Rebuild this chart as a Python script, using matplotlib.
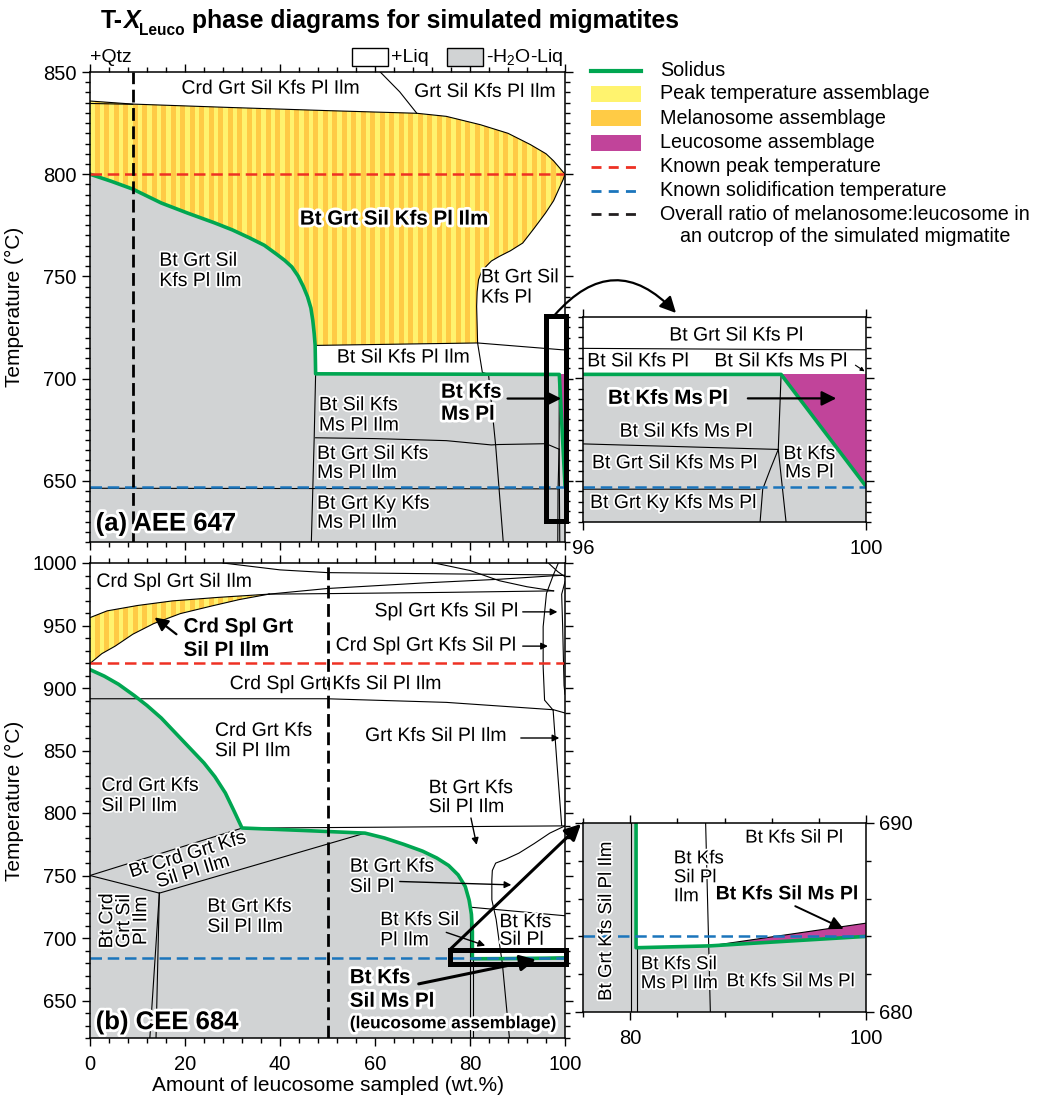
import matplotlib
matplotlib.use("Agg")
import matplotlib.pyplot as plt
import matplotlib.patheffects as pe
from matplotlib.patches import Polygon, Rectangle
from matplotlib.lines import Line2D
from matplotlib.ticker import MultipleLocator, FixedLocator
import numpy as np

plt.rcParams['font.family'] = ['Liberation Sans', 'DejaVu Sans']
plt.rcParams['mathtext.fontset'] = 'custom'
plt.rcParams['mathtext.rm'] = 'Liberation Sans'
plt.rcParams['mathtext.it'] = 'Liberation Sans:italic'
plt.rcParams['mathtext.bf'] = 'Liberation Sans:bold'

GRAY = '#D1D3D4'
YEL = '#FFF36E'
ORG = '#FFCB45'
MAG = '#C1449A'
GREEN = '#00A651'
RED = '#EE3124'
BLUE = '#1B75BC'
FS = 14

# ---- panel (a) AEE 647: x = leucosome wt.%, T = deg C ----
a_sol_x = [0, 4.5, 9, 15, 20.5, 26.3, 30, 33.6, 36.7, 39.3, 41, 42.5, 43.8, 44.9, 45.8, 46.5, 46.9, 47.2, 47.4, 47.5, 98.8, 100]
a_sol_T = [800, 796.5, 792.7, 785.9, 781.0, 776.1, 772.7, 768.8, 765.2, 760.8, 757.8, 754.6, 750.2, 745.1, 740.0, 734.5, 728.5, 722.0, 716.2, 702.3, 702, 647.4]
N_YEL = 19  # solidus points that bound the yellow field
a_liq_x = [0, 9, 30, 50, 68.8, 75, 82.2, 88, 92.7, 96, 97.6, 100]
a_liq_T = [835.8, 834.3, 832.6, 831.1, 829.8, 828.3, 824.2, 820, 814.5, 810, 806.5, 800]
a_liq2_x = [0, 9]
a_liq2_T = [834.6, 834.2]
a_crd_x = [61.1, 65.2, 68.8]
a_crd_T = [850, 840.3, 829.8]
a_edge_x = [100, 99.6, 97.6, 95.9, 93.5, 91.1, 88.5, 86.2, 84.5, 83.4, 82.4, 81.8, 81.5, 81.4, 81.6]
a_edge_T = [800, 797.3, 787, 781, 773.5, 766.3, 762.5, 759.8, 757.5, 754.9, 752.0, 748.4, 742.5, 735.3, 717.4]
a_mid_x = [47.4, 81.6, 99.2, 100]
a_mid_T = [716.2, 717.4, 714.1, 714]
a_v1_x = [81.6, 82.6, 83.9, 85.4, 87.0]
a_v1_T = [717.4, 703, 702, 667.3, 620]
a_ms_x = [47.5, 60, 75, 84.5, 86, 96, 98.76]
a_ms_T = [671, 670.6, 669.6, 667.5, 667.7, 668.1, 665.4]
a_ky_x = [0, 98.5]
a_ky_T = [646.3, 646]
a_v2_x = [47.5, 47.2, 46.6]
a_v2_T = [702.3, 671, 620]
a_v3_x = [98.8, 98.76, 98.87, 98.9]
a_v3_T = [702, 665.4, 630, 620]
a_v4_x = [98.76, 98.65, 98.54, 98.48]
a_v4_T = [665.4, 656, 646, 620]
a_peak, a_solid, a_ratio = 800, 647, 9

# ---- panel (b) CEE 684 ----
b_sol_x = [0, 3, 6, 9.3, 12, 15, 18.5, 21.5, 24, 26.3, 28.5, 30.4, 32, 45, 57.9, 62, 66, 70, 73, 75.5, 77.5, 79, 79.8, 80.3, 80.5, 80.5, 86.8, 100]
b_sol_T = [914.7, 909.5, 903, 894, 886, 876, 862, 850, 840, 829, 816, 801, 788, 786, 783.9, 780, 775, 769.5, 764, 758, 750.5, 741.2, 730.5, 719, 705, 683.4, 683.5, 684.0]
b_leu_x = [86.8, 100, 100]
b_leu_T = [683.5, 684.0, 684.7]
b_ytop_x = [0, 3.6, 10, 17.4, 27, 37.7]
b_ytop_T = [956.3, 961.7, 966.0, 969.7, 972.5, 975.1]
b_ybot_x = [0, 2.5, 5.3, 9, 13.4, 19, 25.5, 31.5, 37.7]
b_ybot_T = [919.6, 927.5, 933.5, 943.0, 951.5, 959.5, 965.5, 970.8, 975.1]
b_lines = [
    ([37.7, 50, 70, 86.2, 97.6, 100], [975.1, 979.6, 984, 987, 989.8, 990.2]),
    ([37.7, 50, 75, 97.6], [975.1, 975.5, 976.5, 977.7]),
    ([72.5, 80, 86.2, 92, 97.6], [1000, 994, 985.8, 981, 977.7]),
    ([28, 40, 50, 75, 97.6, 100], [1000, 994.5, 992.3, 991.3, 990.5, 990]),
    ([98.6, 97.5, 96.1, 95.4, 95.4, 95.7, 97.5], [1000, 990, 975.7, 949, 917, 890.3, 882.3]),
    ([97.5, 98.3, 99.3], [882.3, 840, 790]),
    ([100, 99.3, 99.5, 99.8, 100], [985, 975, 950, 902, 895]),
    ([96.5, 98.5, 100], [1000, 993, 989]),
    ([0, 49.8, 75, 97.6, 100], [891.4, 891.4, 888.5, 882.6, 880]),
    ([32, 60, 100], [787.9, 788.6, 789.7]),
    ([0, 32], [750, 787.9]),
    ([0, 14.6], [750, 735.9]),
    ([14.6, 57.9], [735.9, 783.9]),
    ([14.6, 13.9], [735.9, 620]),
    ([14.6, 12.6], [735.9, 620]),
    ([100, 96.8, 93.5, 90.3, 87.5, 85.4, 84.7, 84.6, 84.6, 85.5, 86.4, 86.8, 88.3],
     [789.7, 783.9, 775.5, 767.9, 763.0, 759.9, 754.0, 746.5, 730.5, 715, 690, 680, 620]),
    ([80.5, 100], [724.5, 717.8]),
    ([80.1, 80.1], [730, 620]),
    ([80.6, 80.6], [683.4, 620]),
]
b_peak, b_solid, b_ratio = 920, 684, 50

W, H = 1039, 1098
fig = plt.figure(figsize=(W / 100, H / 100), dpi=100)


def box(x0, y0, x1, y1):
    return [x0 / W, 1 - y1 / H, (x1 - x0) / W, (y1 - y0) / H]


def fx(px):
    return px / W


def fy(py):
    return 1 - py / H


axa = fig.add_axes(box(90, 72, 565, 542))
axb = fig.add_axes(box(90, 563, 565, 1038))
ina = fig.add_axes(box(583, 317, 866, 522))
inb = fig.add_axes(box(583, 823, 866, 1012))

thin = dict(color='k', lw=0.8, zorder=2)
halo = [pe.withStroke(linewidth=2.5, foreground='white')]
halo_b = [pe.withStroke(linewidth=4, foreground='white')]


def stripes(ax, poly):
    ax.add_patch(poly)
    for x0 in np.arange(0, 100, 2):
        s = ax.axvspan(x0 + 1, x0 + 2, color=ORG, lw=0, zorder=1.2)
        s.set_clip_path(poly)


def common(ax, peak, solid, ratio):
    ax.axhline(peak, color=RED, lw=1.8, ls=(0, (4.6, 2.3)), zorder=4)
    ax.axhline(solid, color=BLUE, lw=1.8, ls=(0, (4.6, 2.3)), zorder=4)
    ax.axvline(ratio, color='k', lw=2, ls=(0, (4.6, 2.0)), zorder=4)


def draw_a(ax):
    ax.add_patch(Polygon(np.column_stack([[0] + a_sol_x + [100], [620] + a_sol_T + [620]]),
                         fc=GRAY, ec='none', zorder=1))
    px = a_liq_x + a_edge_x[1:] + a_sol_x[:N_YEL][::-1]
    pT = a_liq_T + a_edge_T[1:] + a_sol_T[:N_YEL][::-1]
    stripes(ax, Polygon(np.column_stack([px, pT]), fc=YEL, ec='none', zorder=1.1))
    ax.fill([a_sol_x[-2], 100, a_sol_x[-1]], [a_sol_T[-2], a_sol_T[-2], a_sol_T[-1]],
            color=MAG, lw=0, zorder=1.3)
    for xs, ts in [(a_liq_x, a_liq_T), (a_liq2_x, a_liq2_T), (a_crd_x, a_crd_T),
                   (a_edge_x, a_edge_T), (a_mid_x, a_mid_T), (a_v1_x, a_v1_T),
                   (a_ms_x, a_ms_T), (a_ky_x, a_ky_T), (a_v2_x, a_v2_T),
                   (a_v3_x, a_v3_T), (a_v4_x, a_v4_T)]:
        ax.plot(xs, ts, **thin)
    ax.plot(a_sol_x, a_sol_T, color=GREEN, lw=2.6, zorder=3, solid_joinstyle='round')
    common(ax, a_peak, a_solid, a_ratio)


def draw_b(ax):
    ax.add_patch(Polygon(np.column_stack([[0] + b_sol_x + [100], [620] + b_sol_T + [620]]),
                         fc=GRAY, ec='none', zorder=1))
    px = b_ytop_x + b_ybot_x[::-1]
    pT = b_ytop_T + b_ybot_T[::-1]
    stripes(ax, Polygon(np.column_stack([px, pT]), fc=YEL, ec='none', zorder=1.1))
    ax.fill(b_leu_x, b_leu_T, color=MAG, lw=0, zorder=1.3)
    ax.plot(b_ytop_x, b_ytop_T, **thin)
    ax.plot(b_ybot_x, b_ybot_T, **thin)
    ax.plot([b_leu_x[0], b_leu_x[2]], [b_leu_T[0], b_leu_T[2]], **thin)
    for xs, ts in b_lines:
        ax.plot(xs, ts, **thin)
    ax.plot(b_sol_x, b_sol_T, color=GREEN, lw=2.6, zorder=3, solid_joinstyle='round')
    common(ax, b_peak, b_solid, b_ratio)


def style(ax, xlim, ylim):
    ax.set_xlim(*xlim)
    ax.set_ylim(*ylim)
    ax.tick_params(which='both', direction='out', top=True, right=True, width=1, labelsize=14.5)
    ax.tick_params(which='major', length=6)
    ax.tick_params(which='minor', length=3.5)
    ax.tick_params(axis='x', pad=6)
    for s in ax.spines.values():
        s.set_linewidth(1.1)
        s.set_zorder(9)


def lab(ax, x, y, s, ha='center', bold=False, size=FS, rot=0, ls=1.2):
    ax.text(x, y, s, ha=ha, va='center', fontsize=size, rotation=rot, rotation_mode='anchor',
            fontweight='bold' if bold else 'normal', linespacing=ls,
            multialignment='left' if ha == 'left' else ('right' if ha == 'right' else 'center'),
            path_effects=halo_b if bold else halo, zorder=6)


def arr(ax, x0, y0, x1, y1, lw=1.0, ms=12):
    ax.annotate('', xy=(x1, y1), xytext=(x0, y0), zorder=7,
                arrowprops=dict(arrowstyle='-|>', lw=lw, color='k', mutation_scale=ms,
                                shrinkA=0, shrinkB=0))


# panel a
draw_a(axa)
style(axa, (0, 100), (620, 850))
axa.xaxis.set_major_locator(MultipleLocator(20))
axa.xaxis.set_minor_locator(MultipleLocator(4))
axa.yaxis.set_major_locator(MultipleLocator(50))
axa.yaxis.set_minor_locator(MultipleLocator(5))
axa.tick_params(labelbottom=False)
axa.set_ylabel('Temperature (°C)', fontsize=15)
axa.yaxis.set_label_coords(-0.138, 0.5)

lab(axa, 38.1, 841.6, 'Crd Grt Sil Kfs Pl Ilm')
lab(axa, 83.2, 840, 'Grt Sil Kfs Pl Ilm')
lab(axa, 64, 778, 'Bt Grt Sil Kfs Pl Ilm', bold=True, size=14.8)
lab(axa, 14.6, 752.4, 'Bt Grt Sil\nKfs Pl Ilm', ha='left', ls=1.25)
lab(axa, 82.3, 744.3, 'Bt Grt Sil\nKfs Pl', ha='left', ls=1.25)
lab(axa, 66, 710, 'Bt Sil Kfs Pl Ilm')
lab(axa, 48.2, 681.7, 'Bt Sil Kfs\nMs Pl Ilm', ha='left', ls=1.25)
lab(axa, 47.8, 658.2, 'Bt Grt Sil Kfs\nMs Pl Ilm', ha='left', ls=1.15)
lab(axa, 47.8, 633.8, 'Bt Grt Ky Kfs\nMs Pl Ilm', ha='left', ls=1.15)
lab(axa, 73.9, 687.9, 'Bt Kfs\nMs Pl', ha='left', bold=True, size=14.8, ls=1.2)
arr(axa, 87.9, 690.2, 99.2, 690.2, lw=1.6, ms=22)
lab(axa, 1.2, 629, '(a) AEE 647', ha='left', bold=True, size=18.5)
axa.add_patch(Rectangle((95.9, 630.5), 4.3, 100, fill=False, lw=3.6, ec='k',
                        clip_on=False, zorder=8))
axa.annotate('', xy=(fx(676), fy(313)), xycoords='figure fraction', xytext=(97.8, 731),
             textcoords='data', zorder=8,
             arrowprops=dict(arrowstyle='-|>', lw=1.6, color='k', mutation_scale=24,
                             shrinkA=0, shrinkB=0, connectionstyle='arc3,rad=-0.55'))

# inset a
draw_a(ina)
style(ina, (96, 100), (630, 730))
ina.xaxis.set_major_locator(FixedLocator([96, 100]))
ina.yaxis.set_major_locator(MultipleLocator(50))
ina.yaxis.set_minor_locator(MultipleLocator(5))
ina.tick_params(labelleft=False)
lab(ina, 98.17, 720.7, 'Bt Grt Sil Kfs Pl')
lab(ina, 96.78, 708.1, 'Bt Sil Kfs Pl')
lab(ina, 98.8, 708.1, 'Bt Sil Kfs Ms Pl')
arr(ina, 99.85, 706.5, 99.98, 703.5, lw=0.8, ms=6)
lab(ina, 97.2, 690.3, 'Bt Kfs Ms Pl', bold=True, size=14.8)
arr(ina, 98.33, 690.3, 99.58, 690.3, lw=1.6, ms=22)
lab(ina, 97.46, 673.8, 'Bt Sil Kfs Ms Pl')
lab(ina, 97.3, 658.4, 'Bt Grt Sil Kfs Ms Pl')
lab(ina, 99.2, 658.4, 'Bt Kfs\nMs Pl', ls=1.1)
lab(ina, 97.28, 639, 'Bt Grt Ky Kfs Ms Pl')

# panel b
draw_b(axb)
style(axb, (0, 100), (620, 1000))
axb.xaxis.set_major_locator(MultipleLocator(20))
axb.xaxis.set_minor_locator(MultipleLocator(4))
axb.yaxis.set_major_locator(MultipleLocator(50))
axb.yaxis.set_minor_locator(MultipleLocator(10))
axb.set_ylabel('Temperature (°C)', fontsize=15)
axb.yaxis.set_label_coords(-0.138, 0.5)
axb.set_xlabel('Amount of leucosome sampled (wt.%)', fontsize=15)
axb.xaxis.set_label_coords(0.5, -0.08)

lab(axb, 17.8, 984.5, 'Crd Spl Grt Sil Ilm')
lab(axb, 19.7, 939.5, 'Crd Spl Grt\nSil Pl Ilm', ha='left', bold=True, size=14.8, ls=1.3)
arr(axb, 18.2, 943, 13.6, 956.5, lw=1.6, ms=20)
lab(axb, 90.3, 960.9, 'Spl Grt Kfs Sil Pl', ha='right')
arr(axb, 91.1, 960.9, 98.4, 960.9, ms=10)
lab(axb, 89.9, 933.5, 'Crd Spl Grt Kfs Sil Pl', ha='right')
arr(axb, 91.1, 933.5, 96.4, 933.5, ms=10)
lab(axb, 51.8, 902.7, 'Crd Spl Grt Kfs Sil Pl Ilm')
lab(axb, 26.3, 857.2, 'Crd Grt Kfs\nSil Pl Ilm', ha='left', ls=1.25)
lab(axb, 57.9, 861.2, 'Grt Kfs Sil Pl Ilm', ha='left')
arr(axb, 90.7, 860, 98.8, 860, ms=10)
lab(axb, 2.4, 813.2, 'Crd Grt Kfs\nSil Pl Ilm', ha='left', ls=1.25)
lab(axb, 71.3, 811.9, 'Bt Grt Kfs\nSil Pl Ilm', ha='left', ls=1.15)
arr(axb, 80.2, 796, 81.4, 774.5, ms=10)
lab(axb, 21.2, 759.3, 'Bt Crd Grt Kfs\nSil Pl Ilm', rot=17, ls=1.05)
lab(axb, 54.7, 748.5, 'Bt Grt Kfs\nSil Pl', ha='left', ls=1.25)
arr(axb, 65.2, 745.2, 88.7, 742.5, ms=10)
lab(axb, 24.7, 716.5, 'Bt Grt Kfs\nSil Pl Ilm', ha='left', ls=1.25)
lab(axb, 7.3, 713.8, 'Bt Crd\nGrt Sil\nPl Ilm', rot=90, ls=1.0)
lab(axb, 61.1, 705.8, 'Bt Kfs Sil\nPl Ilm', ha='left', ls=1.25)
arr(axb, 75, 704.5, 83.2, 693.9, ms=10)
lab(axb, 86.2, 705.2, 'Bt Kfs\nSil Pl', ha='left', ls=1.05)
lab(axb, 54.7, 658.8, 'Bt Kfs\nSil Ms Pl', ha='left', bold=True, size=14.8, ls=1.3)
lab(axb, 54.7, 631.4, '(leucosome assemblage)', ha='left', bold=True, size=12.5)
arr(axb, 69.2, 663.3, 93.9, 682.7, lw=2.2, ms=24)
lab(axb, 1.2, 632.7, '(b) CEE 684', ha='left', bold=True, size=18.5)
axb.add_patch(Rectangle((75.7, 679.5), 24.5, 11, fill=False, lw=3.6, ec='k',
                        clip_on=False, zorder=8))
axb.annotate('', xy=(fx(581), fy(824)), xycoords='figure fraction', xytext=(75.7, 690.5),
             textcoords='data', zorder=8,
             arrowprops=dict(arrowstyle='-|>', lw=2.2, color='k', mutation_scale=24,
                             shrinkA=0, shrinkB=0))

# inset b
draw_b(inb)
style(inb, (76, 100), (680, 690))
inb.xaxis.set_major_locator(FixedLocator([80, 100]))
inb.xaxis.set_minor_locator(MultipleLocator(4))
inb.yaxis.set_major_locator(FixedLocator([680, 690]))
inb.yaxis.set_minor_locator(MultipleLocator(2))
inb.tick_params(labelleft=False, labelright=True)
lab(inb, 78, 684.8, 'Bt Grt Kfs Sil Pl Ilm', rot=90, size=13.5)
lab(inb, 83.7, 687.1, 'Bt Kfs\nSil Pl\nIlm', ha='left', ls=1.15, size=13.5)
lab(inb, 93.9, 689.2, 'Bt Kfs Sil Pl', size=13.5)
lab(inb, 93.3, 686.2, 'Bt Kfs Sil Ms Pl', bold=True, size=14)
arr(inb, 94.0, 685.6, 98.1, 684.4, lw=1.4, ms=20)
lab(inb, 80.9, 682.0, 'Bt Kfs Sil\nMs Pl Ilm', ha='left', ls=1.15, size=13.5)
lab(inb, 93.6, 681.6, 'Bt Kfs Sil Ms Pl', size=13.5)

# top key boxes
fig.text(fx(90), fy(57), '+Qtz', fontsize=FS, va='center', ha='left')
fig.add_artist(Rectangle((fx(352), fy(66)), 36 / W, 18 / H, transform=fig.transFigure,
                         fc='white', ec='k', lw=1))
fig.text(fx(391), fy(57), '+Liq', fontsize=FS, va='center', ha='left')
fig.add_artist(Rectangle((fx(447), fy(66)), 36 / W, 18 / H, transform=fig.transFigure,
                         fc=GRAY, ec='k', lw=1))
fig.text(fx(486), fy(57), '-H$_2$O-Liq', fontsize=FS, va='center', ha='left')

# legend on the right
leg_y = [71, 94, 118, 143, 167, 191, 214]
fig.add_artist(Line2D([fx(591), fx(641)], [fy(leg_y[0])] * 2, transform=fig.transFigure,
                      color=GREEN, lw=3))
for yy, c in zip(leg_y[1:4], [YEL, ORG, MAG]):
    fig.add_artist(Rectangle((fx(591), fy(yy + 7.5)), 50 / W, 15 / H,
                             transform=fig.transFigure, fc=c, ec='none'))
for yy, c in zip(leg_y[4:], [RED, BLUE, '#231F20']):
    fig.add_artist(Line2D([fx(591), fx(641)], [fy(yy)] * 2, transform=fig.transFigure,
                          color=c, lw=2, ls=(0, (3.6, 2.6))))
leg_txt = ['Solidus', 'Peak temperature assemblage', 'Melanosome assemblage',
           'Leucosome assemblage', 'Known peak temperature',
           'Known solidification temperature']
for yy, s in zip(leg_y, leg_txt):
    fig.text(fx(660), fy(yy), s, fontsize=14.2, va='center', ha='left')
fig.text(fx(660), fy(226), 'Overall ratio of melanosome:leucosome in\nan outcrop of the simulated migmatite',
         fontsize=14.2, va='center', ha='left', multialignment='center', linespacing=1.2)

# title built from pieces
r = fig.canvas.get_renderer()
x = fx(101)
for s, size, st, dy in [('T-', 17.8, 'normal', 0), ('X', 17.8, 'italic', 0),
                        ('Leuco', 11.2, 'normal', -7), (' phase diagrams for simulated migmatites', 17.8, 'normal', 0)]:
    t = fig.text(x, fy(28) + dy / H, s, fontsize=size, fontweight='bold', style=st,
                 va='baseline', ha='left')
    x = t.get_window_extent(renderer=r).x1 / W

fig.savefig('out.png', dpi=100)
